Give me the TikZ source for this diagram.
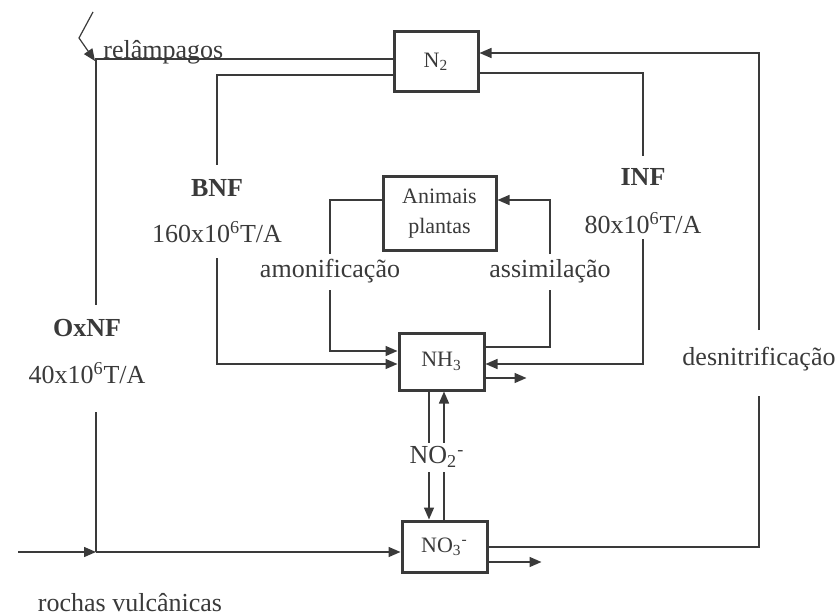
\documentclass[tikz,border=0pt]{standalone}
\usepackage{fontspec}
\setmainfont{Liberation Serif}
\usetikzlibrary{arrows.meta}
\definecolor{ink}{HTML}{3A3A3A}

\begin{document}
\begin{tikzpicture}[x=0.5pt,y=-0.5pt,
  every node/.style={text=ink},
  box/.style={draw=ink,line width=1.5pt,fill=white,align=center,inner sep=0pt,
    font=\fontsize{11}{15}\selectfont},
  tag/.style={font=\fontsize{13}{15}\selectfont,inner sep=1pt},
  line/.style={draw=ink,line width=0.7pt},
  flow/.style={line,-{Triangle[length=6pt,width=5pt]}}]
  \useasboundingbox (0,0) rectangle (836,615);
  \node[box,minimum width=42pt,minimum height=30pt] (n2) at (436,62) {N\textsubscript{2}};
  \node[box,minimum width=56.5pt,minimum height=36.5pt] (animais) at (439.5,213.5) {Animais\\plantas};
  \node[box,minimum width=42.5pt,minimum height=28.5pt] (nh3) at (441.5,361.5) {NH\textsubscript{3}};
  \node[box,minimum width=42.5pt,minimum height=25.5pt] (no3) at (444.5,546.5) {NO\textsubscript{3}\textsuperscript{-}};
  \node[tag,anchor=west] (relampagos) at (101,52) {relâmpagos};
  \node[tag,font=\fontsize{13}{15}\selectfont\bfseries] (bnf) at (217,188) {BNF};
  \node[tag] (bnfval) at (217,232) {160x10\textsuperscript{6}T/A};
  \node[tag,font=\fontsize{13}{15}\selectfont\bfseries] (inf) at (643,177) {INF};
  \node[tag] (infval) at (643,223) {80x10\textsuperscript{6}T/A};
  \node[tag,font=\fontsize{13}{15}\selectfont\bfseries] (oxnf) at (87,328) {OxNF};
  \node[tag] (oxnfval) at (87,373) {40x10\textsuperscript{6}T/A};
  \node[tag] (amon) at (330,271) {amonificação};
  \node[tag] (assim) at (550,271) {assimilação};
  \node[tag] (desnit) at (759,359) {desnitrificação};
  \node[tag] (rochas) at (130,603) {rochas vulcânicas};
  \coordinate (bolt) at (93,12);
  \coordinate (oxa) at (96,305);
  \coordinate (oxb) at (96,412);
  \coordinate (oxc) at (96,552);
  \coordinate (rock) at (18,552);
  \draw[line] (n2.west |- 0,59) -| (oxa);
  \draw[flow,line width=0.6pt] (bolt) -- (79,38) -- (95,61);
  \draw[line] (oxb) -- (oxc);
  \draw[flow] (rock) -- (oxc);
  \draw[flow] (oxc) -- (no3.west |- oxc);
  \draw[line] (n2.west |- 0,75) -| (bnf.north |- 0,165);
  \draw[flow] (bnfval.south |- 0,258) |- (nh3.west |- 0,364);
  \draw[line] (animais.west |- 0,200) -| (amon.north |- 0,254);
  \draw[flow] (amon.south |- 0,290) |- (nh3.west |- 0,351);
  \draw[line] (nh3.east |- 0,347) -| (assim.south |- 0,290);
  \draw[flow] (assim.north |- 0,254) |- (animais.east |- 0,200);
  \draw[line] (n2.east |- 0,73) -| (inf.north |- 0,156);
  \draw[flow] (infval.south |- 0,239) |- (nh3.east |- 0,364);
  \draw[flow] (nh3.east |- 0,378) -- ++(41,0);
  \draw[line] (no3.east |- 0,547) -| (desnit.south |- 0,396);
  \draw[flow] (desnit.north |- 0,330) |- (n2.east |- 0,53);
  \draw[flow] (no3.east |- 0,562) -- ++(53,0);
  \draw[flow] (nh3.south -| 429,0) -- (no3.north -| 429,0);
  \draw[flow] (no3.north -| 444,0) -- (nh3.south -| 444,0);
  \node[tag,fill=white,inner sep=2pt] (no2) at (437,457) {NO\textsubscript{2}\textsuperscript{-}};
\end{tikzpicture}
\end{document}
